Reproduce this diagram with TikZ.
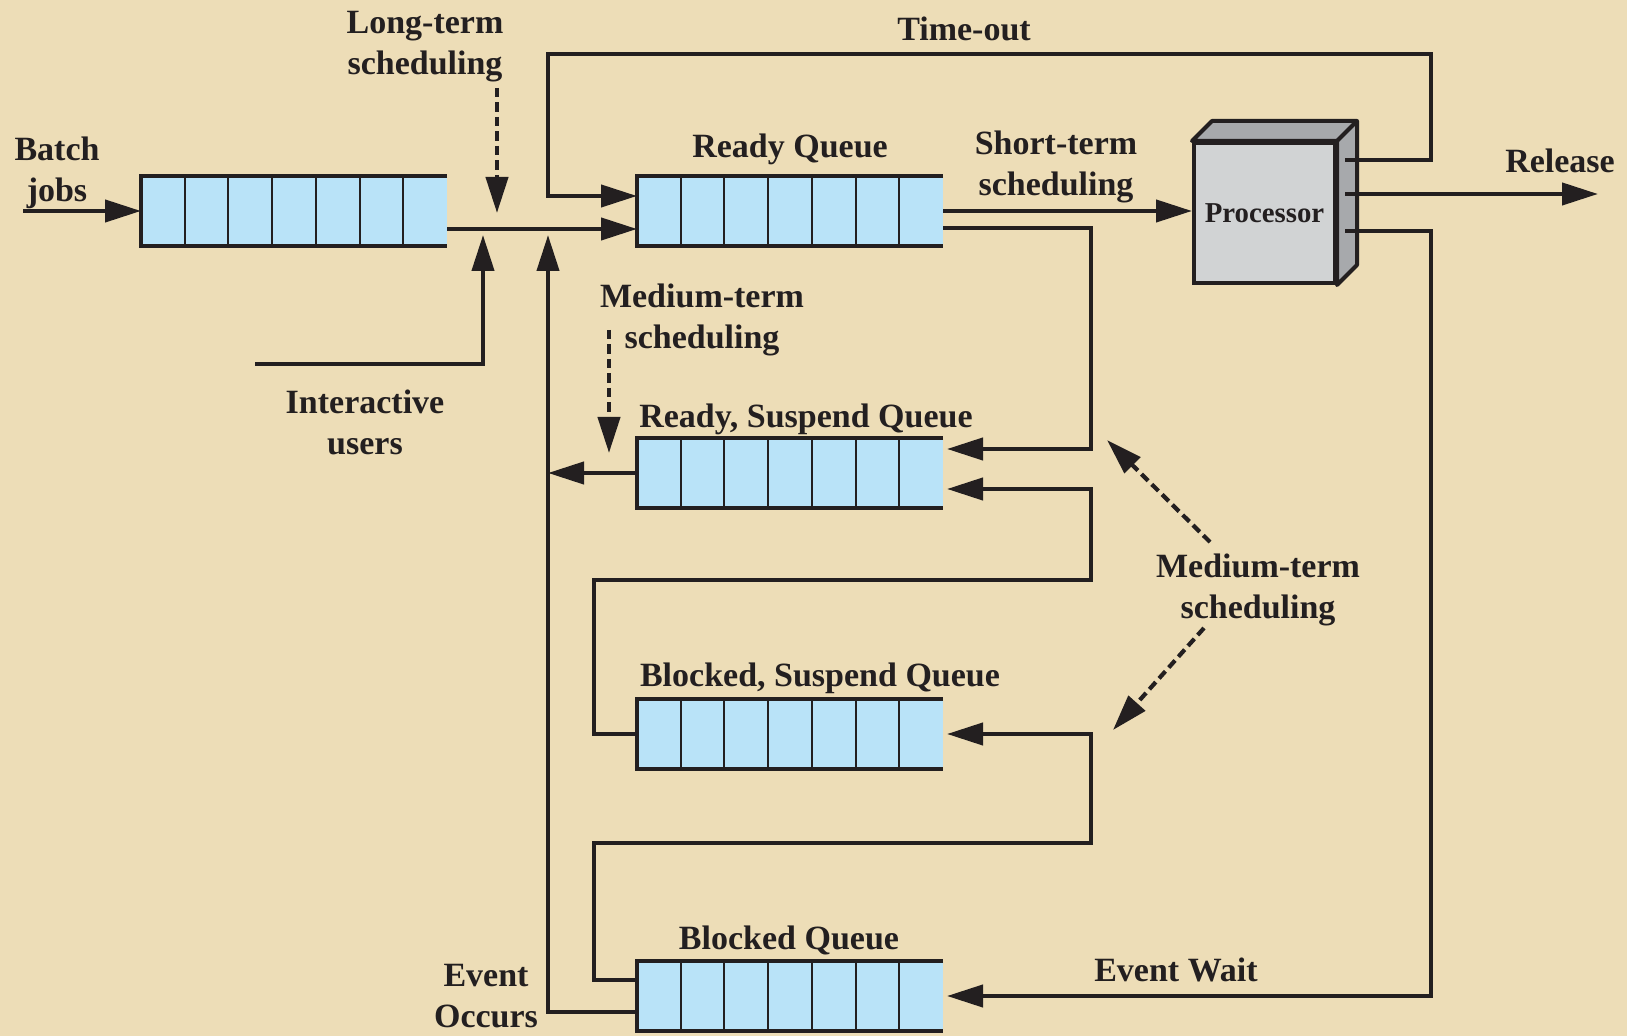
\documentclass[tikz,border=0pt]{standalone}
\usepackage{fontspec}
\setmainfont{Liberation Serif}
\usetikzlibrary{arrows.meta,calc}

\definecolor{parch}{RGB}{237,221,183}
\definecolor{qblue}{RGB}{185,227,248}
\definecolor{ink}{RGB}{35,31,32}
\definecolor{cpufront}{RGB}{209,211,212}
\definecolor{cpuside}{RGB}{167,169,172}

\tikzset{
  lbl/.style={font=\bfseries\fontsize{17}{20.5}\selectfont, text=ink, align=center, inner sep=0pt},
  queue/.style={fill=qblue, minimum width=153pt, minimum height=35pt, inner sep=0pt, outer sep=0pt},
  cpu/.style={fill=cpufront, draw=ink, line width=2pt, minimum width=70.5pt, minimum height=70pt,
    inner sep=0pt, font=\bfseries\fontsize{14.4}{16}\selectfont, text=ink},
  arr/.style={line width=2.1pt, draw=ink, -{Triangle[length=18pt,width=11pt]}},
  darr/.style={arr, dash pattern=on 4.75pt off 2.5pt},
}

\begin{document}
\begin{tikzpicture}[x=0.5pt,y=-0.5pt]
\fill[parch] (0,0) rectangle (1627,1036);

% queues
\node[queue] (bq) at (294,211) {};
\node[queue] (rq) at (790,211) {};
\node[queue] (rsq) at (790,473) {};
\node[queue] (bsq) at (790,734) {};
\node[queue] (blq) at (790,996) {};
\foreach \q in {bq,rq,rsq,bsq,blq} {
  \foreach \i in {1,...,6}
    \draw[ink, line width=1pt] ($(\q.north west)!\i/7!(\q.north east)$) -- ($(\q.south west)!\i/7!(\q.south east)$);
  \draw[ink, line width=2.2pt] (\q.north east) -- (\q.north west) -- (\q.south west) -- (\q.south east);
}

% processor
\node[cpu] (proc) at (1264.5,213) {Processor};
\filldraw[fill=cpuside, draw=ink, line width=2pt, line join=round]
  (proc.north west) -- ($(proc.north west)+(20,-20)$) -- ($(proc.north east)+(20,-20)$)
  -- ($(proc.south east)+(20,-20)$) -- (proc.south east) -- (proc.north east) -- cycle;
\draw[ink, line width=2pt] (proc.north east) -- ($(proc.north east)+(20,-20)$);

% labels
\node[lbl] (ltsl) at (425,47) {Long-term\\scheduling};
\node[lbl] (tol) at (964,29) {Time-out};
\node[lbl] (bjl) at (57,173) {Batch\\jobs};
\node[lbl] (rql) at (790,149) {Ready Queue};
\node[lbl] (stsl) at (1056,167) {Short-term\\scheduling};
\node[lbl] (rell) at (1560,161) {Release};
\node[lbl] (mtsl) at (702,320) {Medium-term\\scheduling};
\node[lbl] (iul) at (365,422) {Interactive\\users};
\node[lbl] (rsql) at (806,419) {Ready, Suspend Queue};
\node[lbl] (mts2l) at (1258,590) {Medium-term\\scheduling};
\node[lbl] (bsql) at (820,678) {Blocked, Suspend Queue};
\node[lbl] (blql) at (789,940) {Blocked Queue};
\node[lbl] (ewl) at (1176,970) {Event Wait};
\node[lbl] (eol) at (486,996) {Event\\Occurs};

% free ends and corners
\coordinate (bin) at (23,211);
\coordinate (iu) at (255,364);
\coordinate (iux) at (483,235);
\coordinate (ev) at (548,235);
\coordinate (p1) at (1345,160);
\coordinate (p2) at (1345,194);
\coordinate (p3) at (1345,231);
\coordinate (rel) at (1598,194);
\coordinate (tl) at (548,54);
\coordinate (tr) at (1431,54);
\coordinate (ew) at (1431,996);
\coordinate (mx) at (1091,0);
\coordinate (l1) at (594,580);
\coordinate (l2) at (594,843);

% connectors
\draw[arr] (bin) -- (bq.west);
\draw[arr] ([yshift=-9pt]bq.east) -- ([yshift=-9pt]rq.west);
\draw[arr] (iu) -| (iux);
\draw[arr] (rq.east) -- (rq.east -| proc.west);
\draw[arr] (p1) -| (tr) -| (tl) |- ([yshift=7.5pt]rq.west);
\draw[arr] (p2) -- (rel);
\draw[arr, shorten >=2pt] (p3) -| (ew) |- (blq.east);
\draw[arr, shorten >=2pt] ([yshift=-8.5pt]rq.east) -| ([yshift=12pt]rsq.east -| mx) -- ([yshift=12pt]rsq.east);
\draw[arr, shorten >=2pt] (bsq.west) -| (l1) -| ([yshift=-8pt]rsq.east -| mx) -- ([yshift=-8pt]rsq.east);
\draw[arr, shorten >=2pt] ([yshift=8pt]blq.west) -| (l2) -| (bsq.east -| mx) -- (bsq.east);
\draw[arr] ([yshift=-8pt]blq.west) -| (ev);
\draw[arr] (rsq.west) -- (rsq.west -| ev);

% scheduling hints
\draw[darr] (497,88) -- (497,213);
\draw[darr] (609,330) -- (609,453);
\draw[darr] (1210,542) -- (1107,440);
\draw[darr] (1204,628) -- (1113,730);
\end{tikzpicture}
\end{document}
